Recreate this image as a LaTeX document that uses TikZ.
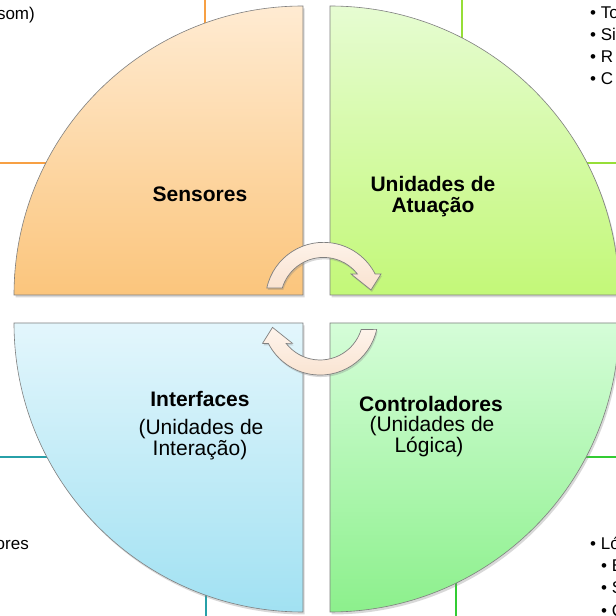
\documentclass[tikz,border=0pt]{standalone}
\usepackage{fontspec}
\setmainfont{Liberation Sans}
\usetikzlibrary{shadows}
\definecolor{tlTop}{HTML}{FFEBD2}
\definecolor{tlBot}{HTML}{FBC57C}
\definecolor{trTop}{HTML}{E6FCD2}
\definecolor{trBot}{HTML}{C3F878}
\definecolor{blTop}{HTML}{E3F6FC}
\definecolor{blBot}{HTML}{A1E1F2}
\definecolor{brTop}{HTML}{D5FDD8}
\definecolor{brBot}{HTML}{8CF08C}
\definecolor{lnOrange}{HTML}{F7A044}
\definecolor{lnLime}{HTML}{96DE38}
\definecolor{lnTeal}{HTML}{27A0A8}
\definecolor{lnGreen}{HTML}{33CC33}
\definecolor{arTop}{HTML}{FEF4EC}
\definecolor{arBot}{HTML}{F9E2CF}
\definecolor{edge}{HTML}{7F7F7F}
\tikzset{
  quad/.style={draw=edge, line width=0.6pt,
    drop shadow={opacity=0.3, shadow xshift=1.5pt, shadow yshift=-2.5pt}},
  txtbox/.style={fill=white, line width=1.5pt},
  lbl/.style={font=\fontsize{21}{22}\selectfont\bfseries, inner sep=0pt, anchor=base},
  sublbl/.style={font=\fontsize{21}{22}\selectfont, inner sep=0pt, anchor=base},
  side/.style={font=\fontsize{17}{22}\selectfont, inner sep=0pt},
  arrowsty/.style={draw=edge, line width=0.7pt, top color=arTop, bottom color=arBot,
    drop shadow={opacity=0.3, shadow xshift=1pt, shadow yshift=-2pt}},
  cyclearrow/.pic={
    \path[arrowsty] (-56.7,12.4) arc[start angle=167.7,end angle=27.1,radius=58]
      -- (57.5,26.4) -- (47.5,10.4) -- (27.5,26.4) -- (33.9,26.4)
      arc[start angle=37.9,end angle=163.2,radius=43] -- cycle;
  }
}
\begin{document}
\begin{tikzpicture}[x=1pt,y=1pt]
\useasboundingbox (0,0) rectangle (616,616);
\clip (0,0) rectangle (616,616);
\fill[white] (0,0) rectangle (616,616);

% background text boxes
\draw[txtbox, draw=lnOrange] (-20,453) rectangle (205,640);
\draw[txtbox, draw=lnLime] (462,453) rectangle (640,640);
\draw[txtbox, draw=lnTeal] (-20,-20) rectangle (206,159);
\draw[txtbox, draw=lnGreen] (456,-20) rectangle (640,159);

\node[side, anchor=base east] (tltext) at (35,596) {som)};
\node[side, anchor=base west] (tr1) at (590,597) {• To};
\node[side, anchor=base west] (tr2) at (590,575) {• Si};
\node[side, anchor=base west] (tr3) at (590,553) {• R};
\node[side, anchor=base west] (tr4) at (590,531) {• C};
\node[side, anchor=base east] (bltext) at (29,66) {ores};
\node[side, anchor=base west] (br1) at (590,66) {• Ló};
\node[side, anchor=base west] (br2) at (601,44) {• E};
\node[side, anchor=base west] (br3) at (601,22) {• S};
\node[side, anchor=base west] (br4) at (601,0) {• C};

% quarter circles
\path[quad, top color=tlTop, bottom color=tlBot]
  (303,321) -- (303,610) arc[start angle=90,end angle=180,radius=289] -- cycle;
\path[quad, top color=trTop, bottom color=trBot]
  (330,321) -- (330,610) arc[start angle=90,end angle=0,radius=289] -- cycle;
\path[quad, top color=blTop, bottom color=blBot]
  (303,293) -- (14,293) arc[start angle=180,end angle=270,radius=289] -- cycle;
\path[quad, top color=brTop, bottom color=brBot]
  (330,293) -- (330,4) arc[start angle=270,end angle=360,radius=289] -- cycle;

% cycle arrows
\pic at (323.5,315.6) {cyclearrow};
\pic[rotate=180] at (320,299) {cyclearrow};

% labels
\node[lbl] (sens) at (200,414) {Sensores};
\node[lbl] (atu1) at (433,424) {Unidades de};
\node[lbl] (atu2) at (433,403) {Atuação};
\node[lbl] (intf) at (200,209) {Interfaces};
\node[sublbl] (intf2) at (201,181) {(Unidades de};
\node[sublbl] (intf3) at (200,160) {Interação)};
\node[lbl] (ctrl) at (431,204) {Controladores};
\node[sublbl] (ctrl2) at (432,184) {(Unidades de};
\node[sublbl] (ctrl3) at (429,163) {Lógica)};
\end{tikzpicture}
\end{document}
